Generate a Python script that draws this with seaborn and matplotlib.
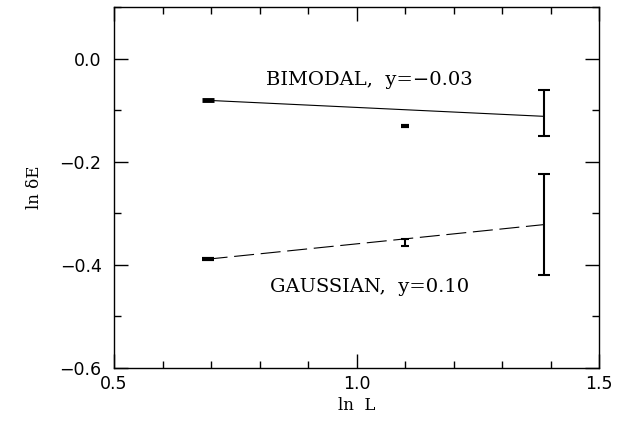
import numpy as np
import pandas as pd
import seaborn as sns
import matplotlib.pyplot as plt
from matplotlib.ticker import MultipleLocator

# ln L for L = 2, 3, 4
ln_L = [0.693, 1.099, 1.386]

# BIMODAL data points and error bars
bimodal_y = [-0.081, -0.130, -0.106]
bimodal_err = [0.002, 0.002, 0.045]
# GAUSSIAN data points and error bars
gauss_y = [-0.389, -0.356, -0.322]
gauss_err = [0.002, 0.007, 0.098]

# fitted lines (values at the end points)
fit_x = [0.693, 1.386]
bimodal_fit = [-0.081, -0.112]
gauss_fit = [-0.389, -0.322]

sns.set_theme(style="ticks")
plt.rcParams['font.family'] = ['DejaVu Sans']
plt.rcParams['text.color'] = 'black'
plt.rcParams['axes.labelcolor'] = 'black'

fig = plt.figure(figsize=(6.32, 4.21), dpi=100)
ax = fig.add_axes([0.1804, 0.1259, 0.7674, 0.8575])

fits = pd.DataFrame({
    "x": fit_x * 2,
    "y": bimodal_fit + gauss_fit,
    "model": ["bimodal"] * 2 + ["gaussian"] * 2,
})
sns.lineplot(data=fits, x="x", y="y", style="model", color="black",
             dashes={"bimodal": "", "gaussian": (18, 6)}, linewidth=0.8,
             legend=False, ax=ax)

# points with tiny errors drawn as short dashes
ax.plot(ln_L[0], bimodal_y[0], marker="_", ms=8, mew=3.5, color="black")
ax.plot(ln_L[1], bimodal_y[1], marker="_", ms=6, mew=3, color="black")
ax.plot(ln_L[0], gauss_y[0], marker="_", ms=8, mew=3, color="black")
ax.errorbar(ln_L[1], gauss_y[1], yerr=gauss_err[1], fmt="none",
            ecolor="black", elinewidth=1.5, capsize=3, capthick=1.5)
ax.errorbar(ln_L[2], bimodal_y[2], yerr=bimodal_err[2], fmt="none",
            ecolor="black", elinewidth=1.5, capsize=4, capthick=1.5)
ax.errorbar(ln_L[2], gauss_y[2], yerr=gauss_err[2], fmt="none",
            ecolor="black", elinewidth=1.5, capsize=4, capthick=1.5)

ax.text(1.027, -0.041, "BIMODAL,  y=\u22120.03", ha="center", va="center",
        family="DejaVu Serif", fontsize=14)
ax.text(1.027, -0.443, "GAUSSIAN,  y=0.10", ha="center", va="center",
        family="DejaVu Serif", fontsize=14)

ax.set_xlim(0.5, 1.5)
ax.set_ylim(-0.6, 0.1)
ax.xaxis.set_major_locator(MultipleLocator(0.5))
ax.xaxis.set_minor_locator(MultipleLocator(0.1))
ax.yaxis.set_major_locator(MultipleLocator(0.2))
ax.yaxis.set_minor_locator(MultipleLocator(0.1))
ax.xaxis.set_major_formatter(plt.FormatStrFormatter("%.1f"))
ax.yaxis.set_major_formatter(plt.FuncFormatter(lambda v, p: f"{v:.1f}".replace("-", "\u2212")))

ax.tick_params(which="both", direction="in", top=True, right=True,
               colors="black", labelsize=12.5)
ax.tick_params(which="major", length=10, width=1.0)
ax.tick_params(axis="x", which="major", pad=5)
ax.tick_params(axis="y", which="major", pad=9)
ax.tick_params(which="minor", length=5, width=1.0)
for s in ax.spines.values():
    s.set_linewidth(1.0)
    s.set_color("black")

ax.set_xlabel("ln  L", family="DejaVu Serif", fontsize=12, labelpad=3)
ax.set_ylabel("ln \u03b4E", family="DejaVu Serif", fontsize=12, labelpad=12)

fig.savefig("out.png", dpi=100)
